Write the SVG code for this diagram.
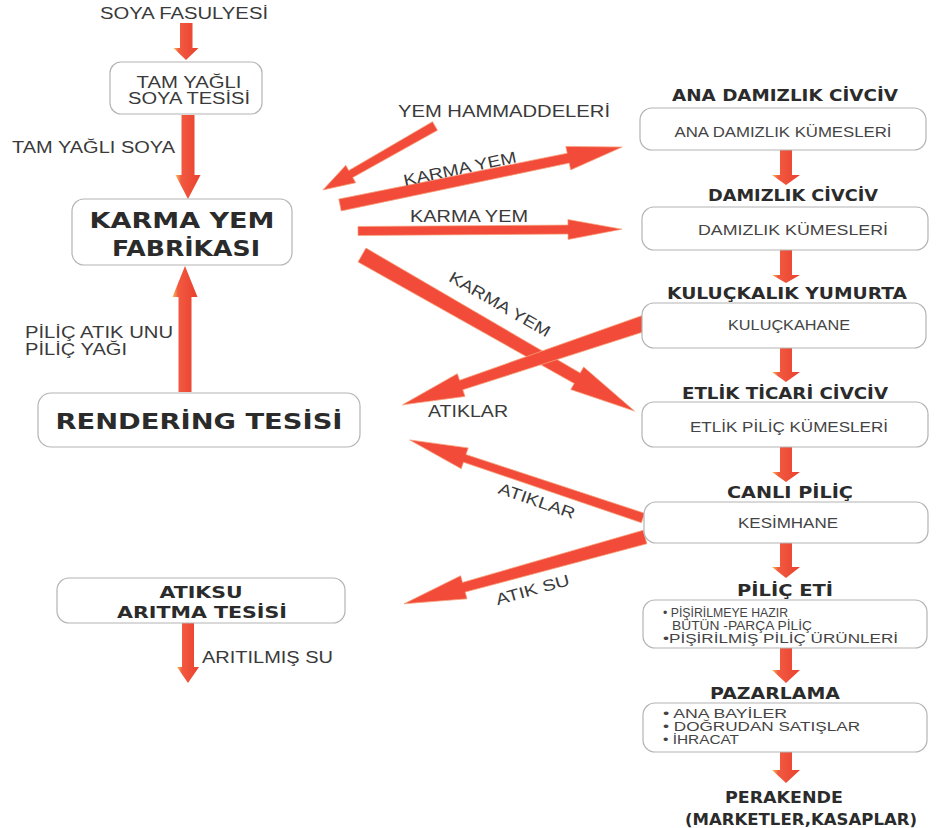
<svg xmlns="http://www.w3.org/2000/svg" width="937" height="828" viewBox="0 0 937 828">
<defs>
<linearGradient id="vg" x1="0" y1="0" x2="1" y2="0">
<stop offset="0" stop-color="#f6c25a"/>
<stop offset="0.22" stop-color="#f25a40"/>
<stop offset="1" stop-color="#e9402f"/>
</linearGradient>
<style>
.box{fill:#fff;stroke:#b4b4b4;stroke-width:1.2}
.va{fill:url(#vg)}
.da{fill:#f24b3a;stroke:#f6a07a;stroke-width:0.7}
.lbl{font-family:"Liberation Sans",Arial,sans-serif;font-size:16px;fill:#3a3a3a}
.bx{font-family:"Liberation Sans",Arial,sans-serif;font-size:14px;fill:#444}
.hd{font-family:"DejaVu Sans","Liberation Sans",sans-serif;font-weight:bold;font-size:15px;fill:#2b2b2b}
.big{font-family:"DejaVu Sans","Liberation Sans",sans-serif;font-weight:bold;font-size:22px;fill:#2b2b2b}
.mid{font-family:"DejaVu Sans","Liberation Sans",sans-serif;font-weight:bold;font-size:16px;fill:#2b2b2b}
.li{font-family:"Liberation Sans",Arial,sans-serif;font-size:12px;fill:#444}
</style>
</defs>
<rect width="937" height="828" fill="#fff"/>

<g id="connectors">
<!-- left vertical arrows -->
<path class="va" d="M180,23 H192.5 V48 H198.5 L186,60 L173.5,48 H180 Z"/>
<path class="va" d="M181.5,115 H194.5 V175 H200.5 L188,199 L175.5,175 H181.5 Z"/>
<path class="va" d="M178.5,392 H191.5 V297 H197.5 L185,266 L172.5,297 H178.5 Z"/>
<path class="va" d="M182,623 H194 V667 H199 L188,683 L177,667 H182 Z"/>
<!-- right vertical arrows -->
<path class="va" d="M780,150 H792 V175 H800 L786,185 L772,175 H780 Z"/>
<path class="va" d="M780,250 H792 V275 H800 L786,283 L772,275 H780 Z"/>
<path class="va" d="M780,348 H792 V372 H800 L786,382 L772,372 H780 Z"/>
<path class="va" d="M780,447 H792 V472 H800 L786,482 L772,472 H780 Z"/>
<path class="va" d="M780,543 H792 V567 H800 L786,578 L772,567 H780 Z"/>
<path class="va" d="M780,648 H792 V670 H800 L786,683 L772,670 H780 Z"/>
<path class="va" d="M780,752 H792 V770 H800 L786,783 L772,770 H780 Z"/>
<!-- diagonal arrows -->
<path class="da" transform="translate(435,126) rotate(150.3)" d="M0,-5 L97,-4 L97,-10 L129,0 L97,10 L97,4 L0,5 Z"/>
<path class="da" transform="translate(340,205) rotate(-11.6)" d="M0,-6 L233,-5 L233,-12 L288,0 L233,12 L233,5 L0,6 Z"/>
<path class="da" transform="translate(358,231) rotate(-0.4)" d="M0,-4.5 L210,-4.5 L210,-10 L264,0 L210,10 L210,4.5 L0,4.5 Z"/>
<path class="da" transform="translate(362,255) rotate(29.8)" d="M0,-8 L248,-6 L248,-13 L314,0 L248,13 L248,6 L0,8 Z"/>
<path class="da" transform="translate(645,323) rotate(161.35)" d="M0,-8 L194,-5 L194,-12 L256,0 L194,12 L194,5 L0,8 Z"/>
<path class="da" transform="translate(643,518) rotate(-161.5)" d="M0,-5 L188,-4 L188,-11 L246,0 L188,11 L188,4 L0,5 Z"/>
<path class="da" transform="translate(645,537) rotate(164.5)" d="M0,-7 L188,-5 L188,-12 L250,0 L188,12 L188,5 L0,7 Z"/>
<!-- connector labels -->
<text class="lbl" x="184" y="19" text-anchor="middle" textLength="168" lengthAdjust="spacingAndGlyphs">SOYA FASULYESİ</text>
<text class="lbl" x="12" y="153" textLength="163" lengthAdjust="spacingAndGlyphs">TAM YAĞLI SOYA</text>
<text class="lbl" x="25" y="338" textLength="148" lengthAdjust="spacingAndGlyphs">PİLİÇ ATIK UNU</text>
<text class="lbl" x="25" y="355" textLength="102" lengthAdjust="spacingAndGlyphs">PİLİÇ YAĞI</text>
<text class="lbl" x="202" y="663" textLength="131" lengthAdjust="spacingAndGlyphs">ARITILMIŞ SU</text>
<text class="lbl" x="504" y="117" text-anchor="middle" textLength="212" lengthAdjust="spacingAndGlyphs">YEM HAMMADDELERİ</text>
<text class="lbl" x="461" y="174" text-anchor="middle" transform="rotate(-12 461 174)" textLength="115" lengthAdjust="spacingAndGlyphs">KARMA YEM</text>
<text class="lbl" x="469" y="222" text-anchor="middle" textLength="118" lengthAdjust="spacingAndGlyphs">KARMA YEM</text>
<text class="lbl" x="497" y="309" text-anchor="middle" transform="rotate(30 497 309)" textLength="114" lengthAdjust="spacingAndGlyphs">KARMA YEM</text>
<text class="lbl" x="468" y="417" text-anchor="middle" textLength="80" lengthAdjust="spacingAndGlyphs">ATIKLAR</text>
<text class="lbl" x="535" y="506" text-anchor="middle" transform="rotate(19 535 506)" textLength="80" lengthAdjust="spacingAndGlyphs">ATIKLAR</text>
<text class="lbl" x="534" y="595" text-anchor="middle" transform="rotate(-15.5 534 595)" textLength="76" lengthAdjust="spacingAndGlyphs">ATIK SU</text>
</g>

<g id="soya-tesisi">
<rect class="box" x="110" y="62" width="152" height="52" rx="11"/>
<text class="lbl" x="189" y="88" text-anchor="middle" textLength="105" lengthAdjust="spacingAndGlyphs">TAM YAĞLI</text>
<text class="lbl" x="189" y="104" text-anchor="middle" textLength="122" lengthAdjust="spacingAndGlyphs">SOYA TESİSİ</text>
</g>

<g id="karma-yem-fabrikasi">
<rect class="box" x="72" y="199" width="220" height="66" rx="12"/>
<text class="big" x="182" y="228" text-anchor="middle" textLength="185" lengthAdjust="spacingAndGlyphs">KARMA YEM</text>
<text class="big" x="186" y="256" text-anchor="middle" textLength="148" lengthAdjust="spacingAndGlyphs">FABRİKASI</text>
</g>

<g id="rendering-tesisi">
<rect class="box" x="38" y="393" width="322" height="54" rx="13"/>
<text class="big" x="199" y="429" text-anchor="middle" textLength="287" lengthAdjust="spacingAndGlyphs">RENDERİNG TESİSİ</text>
</g>

<g id="atiksu-aritma">
<rect class="box" x="57" y="578" width="288" height="45" rx="12"/>
<text class="mid" x="201" y="598" text-anchor="middle" textLength="83" lengthAdjust="spacingAndGlyphs">ATIKSU</text>
<text class="mid" x="202" y="618" text-anchor="middle" textLength="170" lengthAdjust="spacingAndGlyphs">ARITMA TESİSİ</text>
</g>

<g id="ana-damizlik">
<text class="hd" x="785" y="101" text-anchor="middle" textLength="226" lengthAdjust="spacingAndGlyphs">ANA DAMIZLIK CİVCİV</text>
<rect class="box" x="640" y="108" width="286" height="42" rx="12"/>
<text class="bx" x="783" y="137" text-anchor="middle" textLength="217" lengthAdjust="spacingAndGlyphs">ANA DAMIZLIK KÜMESLERİ</text>
</g>

<g id="damizlik">
<text class="hd" x="793" y="201" text-anchor="middle" textLength="170" lengthAdjust="spacingAndGlyphs">DAMIZLIK CİVCİV</text>
<rect class="box" x="642" y="207" width="286" height="43" rx="12"/>
<text class="bx" x="793" y="235" text-anchor="middle" textLength="190" lengthAdjust="spacingAndGlyphs">DAMIZLIK KÜMESLERİ</text>
</g>

<g id="kuluckahane">
<text class="hd" x="787" y="299" text-anchor="middle" textLength="240" lengthAdjust="spacingAndGlyphs">KULUÇKALIK YUMURTA</text>
<rect class="box" x="642" y="303" width="284" height="45" rx="12"/>
<text class="bx" x="789" y="330" text-anchor="middle" textLength="122" lengthAdjust="spacingAndGlyphs">KULUÇKAHANE</text>
</g>

<g id="etlik">
<text class="hd" x="785" y="399" text-anchor="middle" textLength="206" lengthAdjust="spacingAndGlyphs">ETLİK TİCARİ CİVCİV</text>
<rect class="box" x="642" y="402" width="286" height="45" rx="12"/>
<text class="bx" x="789" y="432" text-anchor="middle" textLength="198" lengthAdjust="spacingAndGlyphs">ETLİK PİLİÇ KÜMESLERİ</text>
</g>

<g id="kesimhane">
<text class="hd" x="790" y="498" text-anchor="middle" textLength="126" lengthAdjust="spacingAndGlyphs">CANLI PİLİÇ</text>
<rect class="box" x="644" y="502" width="284" height="41" rx="12"/>
<text class="bx" x="788" y="528" text-anchor="middle" textLength="100" lengthAdjust="spacingAndGlyphs">KESİMHANE</text>
</g>

<g id="pilic-eti">
<text class="hd" x="785" y="596" text-anchor="middle" textLength="96" lengthAdjust="spacingAndGlyphs">PİLİÇ ETİ</text>
<rect class="box" x="643" y="600" width="284" height="48" rx="12"/>
<text class="li" x="663" y="617" textLength="125" lengthAdjust="spacingAndGlyphs">• PİŞİRİLMEYE HAZIR</text>
<text class="li" x="672" y="630" textLength="140" lengthAdjust="spacingAndGlyphs">BÜTÜN -PARÇA PİLİÇ</text>
<text class="li" x="663" y="643" textLength="235" lengthAdjust="spacingAndGlyphs">•PİŞİRİLMİŞ PİLİÇ ÜRÜNLERİ</text>
</g>

<g id="pazarlama">
<text class="hd" x="775" y="699" text-anchor="middle" textLength="130" lengthAdjust="spacingAndGlyphs">PAZARLAMA</text>
<rect class="box" x="643" y="703" width="284" height="49" rx="12"/>
<text class="li" x="663" y="718" textLength="124" lengthAdjust="spacingAndGlyphs">• ANA BAYİLER</text>
<text class="li" x="663" y="731" textLength="197" lengthAdjust="spacingAndGlyphs">• DOĞRUDAN SATIŞLAR</text>
<text class="li" x="663" y="744" textLength="76" lengthAdjust="spacingAndGlyphs">• İHRACAT</text>
</g>

<g id="perakende">
<text class="hd" x="784" y="803" text-anchor="middle" textLength="118" lengthAdjust="spacingAndGlyphs">PERAKENDE</text>
<text class="hd" x="801" y="825" text-anchor="middle" textLength="232" lengthAdjust="spacingAndGlyphs">(MARKETLER,KASAPLAR)</text>
</g>
</svg>
